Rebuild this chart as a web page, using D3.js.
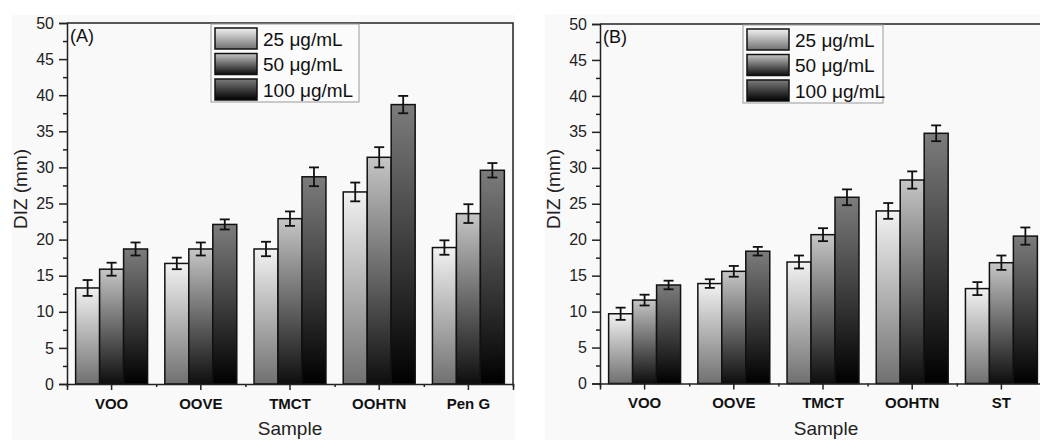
<!DOCTYPE html>
<html>
<head>
<meta charset="utf-8">
<script src="https://d3js.org/d3.v7.min.js"></script>
<style>
  body { margin: 0; background: #fff; }
  svg { display: block; font-family: "Liberation Sans", Arial, sans-serif; }
</style>
</head>
<body>
<svg id="chart" width="1040" height="440"></svg>
<script>
// Data (DIZ in mm, mean and error)
const concentrations = ['25 μg/mL', '50 μg/mL', '100 μg/mL'];
const samplesA = ['VOO', 'OOVE', 'TMCT', 'OOHTN', 'Pen G'];
const samplesB = ['VOO', 'OOVE', 'TMCT', 'OOHTN', 'ST'];

const valuesA25 = [13.3, 16.7, 18.7, 26.6, 18.9];
const valuesA50 = [15.9, 18.7, 22.9, 31.4, 23.6];
const valuesA100 = [18.7, 22.1, 28.7, 38.7, 29.6];
const errorsA25 = [1.1, 0.8, 1.0, 1.3, 1.0];
const errorsA50 = [0.9, 0.9, 1.0, 1.4, 1.3];
const errorsA100 = [0.9, 0.7, 1.3, 1.2, 1.0];

const valuesB25 = [9.7, 13.9, 16.9, 24.0, 13.2];
const valuesB50 = [11.6, 15.6, 20.7, 28.3, 16.8];
const valuesB100 = [13.7, 18.4, 25.9, 34.8, 20.5];
const errorsB25 = [0.85, 0.6, 0.9, 1.1, 0.9];
const errorsB50 = [0.75, 0.75, 0.9, 1.2, 1.0];
const errorsB100 = [0.6, 0.6, 1.1, 1.1, 1.2];

const yTicks = [0, 5, 10, 15, 20, 25, 30, 35, 40, 45, 50];
const yMinorTicks = [2.5, 7.5, 12.5, 17.5, 22.5, 27.5, 32.5, 37.5, 42.5, 47.5];

const svg = d3.select('#chart');

// Vertical gray gradients used for the bars and legend swatches
const gradientStops = [
  ['#f2f2f2', '#707070'],
  ['#c6c6c6', '#0e0e0e'],
  ['#7c7c7c', '#000000']
];
const defs = svg.append('defs');
gradientStops.forEach((stops, i) => {
  const grad = defs.append('linearGradient')
    .attr('id', 'grad' + i)
    .attr('x1', 0).attr('y1', 0).attr('x2', 0).attr('y2', 1);
  grad.append('stop').attr('offset', '0%').attr('stop-color', stops[0]);
  grad.append('stop').attr('offset', '100%').attr('stop-color', stops[1]);
});

const drawPanel = (p) => {
  // light gray page behind each panel
  svg.append('rect')
    .attr('x', p.bg[0]).attr('y', p.bg[1])
    .attr('width', p.bg[2]).attr('height', p.bg[3])
    .attr('fill', '#f9f9f9');

  const g = svg.append('g');

  const y = d3.scaleLinear().domain([0, 50]).range([p.bottom, p.top]);
  const x0 = d3.scaleBand().domain(p.samples).range([p.left, p.right]).padding(0);
  const x1 = d3.scaleBand().domain(concentrations)
    .range([0, x0.bandwidth()]).paddingInner(0).paddingOuter(0.36);
  const xEdge = d3.scaleLinear().domain([0, p.samples.length]).range([p.left, p.right]);

  const rows = p.samples.map((s, i) => ({
    sample: s,
    bars: concentrations.map((c, j) => ({ conc: c, idx: j, value: p.values[j][i], err: p.errors[j][i] }))
  }));

  const groups = g.selectAll('g.grp')
    .data(rows)
    .enter()
    .append('g')
    .attr('class', 'grp')
    .attr('transform', d => `translate(${x0(d.sample)},0)`);

  groups.selectAll('rect')
    .data(d => d.bars)
    .enter()
    .append('rect')
    .attr('x', d => x1(d.conc))
    .attr('y', d => y(d.value))
    .attr('width', x1.bandwidth())
    .attr('height', d => y(0) - y(d.value))
    .attr('fill', d => `url(#grad${d.idx})`)
    .attr('stroke', '#111')
    .attr('stroke-width', 1.5);

  // error bars
  const eb = groups.selectAll('g.err')
    .data(d => d.bars)
    .enter()
    .append('g')
    .attr('class', 'err')
    .attr('stroke', '#111')
    .attr('stroke-width', 1.8);
  const cx = d => x1(d.conc) + x1.bandwidth() / 2;
  eb.append('line')
    .attr('x1', cx).attr('x2', cx)
    .attr('y1', d => y(d.value - d.err)).attr('y2', d => y(d.value + d.err));
  eb.append('line')
    .attr('x1', d => cx(d) - 5).attr('x2', d => cx(d) + 5)
    .attr('y1', d => y(d.value + d.err)).attr('y2', d => y(d.value + d.err));
  eb.append('line')
    .attr('x1', d => cx(d) - 5).attr('x2', d => cx(d) + 5)
    .attr('y1', d => y(d.value - d.err)).attr('y2', d => y(d.value - d.err));

  // frame: top and right
  g.append('path')
    .attr('d', `M${p.left},${p.top}H${p.right}V${p.bottom}`)
    .attr('fill', 'none')
    .attr('stroke', '#222')
    .attr('stroke-width', 1.5);

  // y axis
  const yAxis = g.append('g')
    .attr('transform', `translate(${p.left},0)`)
    .call(d3.axisLeft(y).tickValues(yTicks).tickSize(8).tickPadding(5));
  g.append('g')
    .attr('transform', `translate(${p.left},0)`)
    .call(d3.axisLeft(y).tickValues(yMinorTicks).tickSize(4).tickFormat(''))
    .select('.domain').remove();
  yAxis.selectAll('text').attr('font-size', 16).attr('fill', '#222');

  // x axis with ticks at group centres and minor ticks at group edges
  const xAxis = g.append('g')
    .attr('transform', `translate(0,${p.bottom})`)
    .call(d3.axisBottom(x0).tickSizeOuter(0).tickSize(6).tickPadding(8));
  g.append('g')
    .attr('transform', `translate(0,${p.bottom})`)
    .call(d3.axisBottom(xEdge).ticks(p.samples.length).tickSize(3).tickFormat(''))
    .select('.domain').remove();
  xAxis.selectAll('text')
    .attr('font-size', 15)
    .attr('font-weight', 'bold')
    .attr('fill', '#111');

  g.selectAll('.domain, .tick line').attr('stroke', '#222').attr('stroke-width', 1.5);

  // axis titles
  g.append('text')
    .attr('x', (p.left + Math.min(p.right, 1040)) / 2 + p.titleShift)
    .attr('y', 435)
    .attr('text-anchor', 'middle')
    .attr('font-size', 19)
    .attr('fill', '#222')
    .text('Sample');
  g.append('text')
    .attr('transform', `translate(${p.left - 40},189) rotate(-90)`)
    .attr('text-anchor', 'middle')
    .attr('font-size', 19)
    .attr('fill', '#222')
    .text('DIZ (mm)');

  // panel letter
  g.append('text')
    .attr('x', p.left + 3)
    .attr('y', p.top + 19)
    .attr('font-size', 18)
    .attr('fill', '#111')
    .text(p.letter);

  // legend
  const lg = g.append('g').attr('transform', `translate(${p.legendX},${p.top + 1})`);
  lg.append('rect')
    .attr('width', p.legendW).attr('height', 78)
    .attr('fill', '#fbfbfb')
    .attr('stroke', '#999')
    .attr('stroke-width', 1);
  const items = lg.selectAll('g.item')
    .data(concentrations)
    .enter()
    .append('g')
    .attr('class', 'item')
    .attr('transform', (d, i) => `translate(4,${4 + i * 25.5})`);
  items.append('rect')
    .attr('width', 42).attr('height', 21)
    .attr('fill', (d, i) => `url(#grad${i})`)
    .attr('stroke', '#111')
    .attr('stroke-width', 1.5);
  items.append('text')
    .attr('x', 48)
    .attr('y', 17.5)
    .attr('font-size', 19)
    .attr('fill', '#111')
    .text(d => d);
};

drawPanel({
  letter: '(A)', samples: samplesA,
  values: [valuesA25, valuesA50, valuesA100],
  errors: [errorsA25, errorsA50, errorsA100],
  left: 67, right: 513, top: 23, bottom: 384,
  bg: [12, 15, 503, 425],
  legendX: 211, legendW: 148, titleShift: 0
});

drawPanel({
  letter: '(B)', samples: samplesB,
  values: [valuesB25, valuesB50, valuesB100],
  errors: [errorsB25, errorsB50, errorsB100],
  left: 600, right: 1046, top: 24, bottom: 383.5,
  bg: [545, 14, 495, 426],
  legendX: 743, legendW: 140, titleShift: 6
});
</script>
</body>
</html>
